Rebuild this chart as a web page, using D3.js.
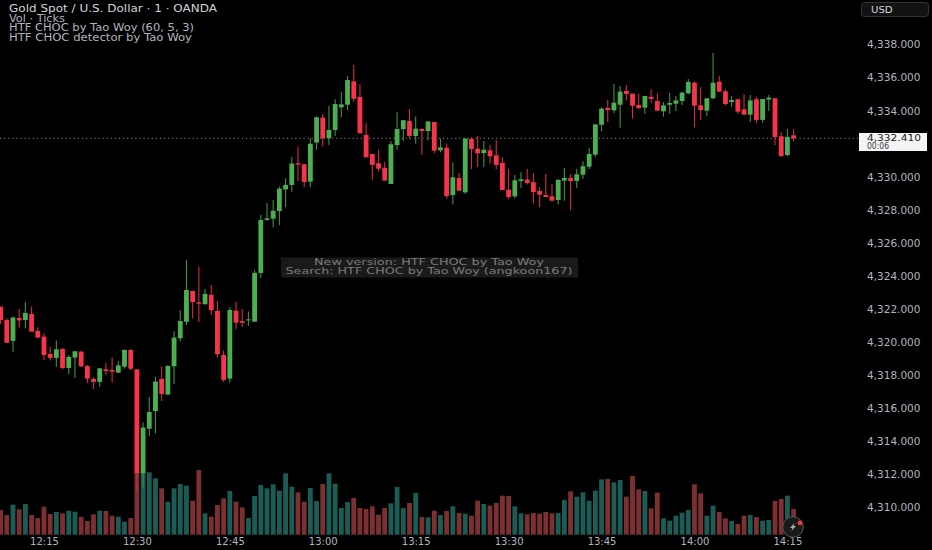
<!DOCTYPE html>
<html>
<head>
<meta charset="utf-8">
<script src="https://cdn.jsdelivr.net/npm/d3@7"></script>
<style>
  html, body { margin: 0; padding: 0; background: #000; }
  svg { display: block; }
  text { font-family: "DejaVu Sans", sans-serif; }
</style>
</head>
<body>
<svg id="chart" width="932" height="550"></svg>
<script>
const firstMinute = new Date(2025, 11, 15, 12, 8);

const opens = [
  4322.15,4321.34,4320.08,4321.47,4321.34,4321.71,4320.68,4320.34,4319.29,4319.05,
  4319.59,4318.44,4319.07,4319.43,4318.56,4317.78,4317.60,4318.36,4318.32,4318.16,
  4318.52,4319.53,4318.36,4312.08,4314.77,4315.84,4317.78,4316.83,4318.54,4320.24,
  4321.24,4323.10,4322.41,4322.29,4322.86,4321.89,4319.23,4317.80,4321.91,4321.28,
  4321.32,4321.24,4324.19,4327.39,4327.47,4327.93,4329.24,4329.51,4330.82,4330.76,
  4329.71,4332.07,4333.58,4332.33,4332.83,4334.20,4334.36,4335.77,4334.83,4332.53,
  4331.38,4330.82,4330.55,4329.57,4331.92,4332.89,4333.37,4332.47,4332.89,4332.77,
  4333.32,4331.60,4331.76,4328.90,4329.93,4329.06,4332.29,4331.70,4331.44,4331.60,
  4331.30,4330.84,4329.22,4328.82,4329.75,4329.83,4329.67,4329.14,4328.90,4328.82,
  4328.60,4329.77,4329.93,4329.75,4330.13,4330.61,4331.34,4333.15,4334.16,4334.02,
  4334.36,4335.19,4335.03,4334.34,4334.18,4334.83,4334.58,4333.96,4334.36,4334.42,
  4334.58,4335.05,4335.69,4334.32,4334.00,4334.75,4335.75,4335.17,4334.52,4334.69,
  4334.08,4333.76,4334.69,4333.44,4334.67,4334.75,4332.45,4331.32,4332.51
];
const highs = [
  4322.15,4321.45,4321.55,4322.01,4322.41,4322.15,4320.90,4320.54,4319.73,4320.10,
  4319.63,4319.21,4319.45,4319.49,4318.62,4317.88,4318.46,4318.76,4319.07,4318.87,
  4319.57,4319.59,4318.36,4315.14,4316.67,4317.90,4318.54,4318.62,4320.66,4321.93,
  4324.97,4323.10,4324.57,4323.22,4323.46,4322.49,4319.51,4322.11,4322.45,4322.01,
  4321.85,4324.35,4327.69,4328.40,4328.60,4329.41,4329.91,4331.20,4331.82,4330.76,
  4332.33,4333.64,4333.80,4334.28,4334.69,4335.11,4336.10,4336.76,4335.59,4333.27,
  4331.38,4331.62,4330.90,4332.15,4333.90,4333.44,4334.10,4333.64,4332.93,4333.35,
  4333.32,4332.31,4332.02,4330.88,4330.23,4332.33,4332.39,4332.47,4332.17,4331.94,
  4332.23,4331.18,4330.47,4330.11,4330.27,4330.47,4330.23,4329.37,4330.17,4329.57,
  4329.89,4330.53,4330.17,4330.49,4330.94,4331.76,4333.17,4334.22,4334.64,4335.61,
  4335.49,4335.55,4335.03,4335.03,4334.89,4335.29,4335.05,4334.52,4335.07,4334.89,
  4335.15,4335.91,4335.77,4335.41,4334.75,4337.49,4336.10,4335.29,4334.89,4334.69,
  4334.99,4334.95,4334.83,4334.71,4334.95,4334.75,4332.69,4332.89,4332.87
];
const lows = [
  4321.10,4319.95,4319.43,4320.88,4320.84,4320.64,4320.28,4318.93,4318.89,4318.52,
  4318.38,4318.08,4317.84,4318.50,4317.54,4317.17,4317.30,4318.00,4317.56,4318.16,
  4318.40,4318.30,4311.01,4311.23,4314.33,4314.49,4316.45,4316.83,4317.48,4320.04,
  4321.04,4321.43,4321.22,4322.29,4321.65,4319.07,4317.60,4317.56,4320.78,4320.92,
  4321.00,4321.24,4323.88,4327.35,4326.95,4327.09,4328.16,4329.10,4329.75,4329.39,
  4329.39,4331.64,4331.84,4331.92,4332.47,4333.60,4334.04,4334.54,4332.63,4331.18,
  4329.83,4330.31,4329.77,4329.57,4331.64,4332.15,4332.33,4332.00,4331.32,4332.19,
  4331.42,4331.48,4328.68,4328.32,4329.16,4328.98,4330.47,4330.59,4330.59,4330.80,
  4330.47,4329.20,4328.66,4328.72,4329.32,4329.53,4328.38,4328.16,4328.78,4328.52,
  4328.32,4328.56,4327.99,4329.32,4329.87,4330.47,4331.22,4332.75,4333.31,4333.86,
  4332.97,4334.62,4333.52,4334.10,4333.82,4334.46,4334.00,4333.64,4333.82,4333.98,
  4334.34,4334.99,4332.99,4333.44,4333.66,4334.69,4335.15,4334.32,4334.24,4333.82,
  4333.76,4333.32,4333.27,4333.27,4333.98,4331.92,4331.20,4331.24,4332.15
];
const closes = [
  4321.34,4319.97,4321.49,4321.32,4321.77,4320.64,4320.28,4319.23,4319.05,4319.57,
  4318.44,4319.11,4319.45,4318.54,4317.80,4317.60,4318.42,4318.26,4318.22,4318.60,
  4319.53,4318.40,4312.08,4314.84,4315.78,4317.62,4316.87,4318.56,4320.28,4321.28,
  4323.16,4322.43,4322.33,4322.92,4321.93,4319.27,4317.72,4321.95,4321.18,4321.18,
  4321.38,4324.19,4327.39,4327.49,4327.95,4329.28,4329.51,4330.80,4330.74,4329.69,
  4332.00,4333.60,4332.33,4332.83,4334.40,4334.38,4335.85,4334.72,4332.63,4331.18,
  4330.72,4330.49,4329.77,4331.97,4332.89,4333.42,4332.47,4332.91,4332.77,4333.35,
  4331.58,4331.78,4328.84,4329.97,4329.16,4332.31,4331.68,4331.42,4331.64,4331.24,
  4330.72,4329.20,4328.78,4329.79,4329.85,4329.63,4329.08,4328.92,4328.78,4328.56,
  4329.81,4329.93,4329.75,4330.15,4330.64,4331.38,4333.17,4334.12,4334.04,4334.48,
  4335.15,4335.01,4334.30,4334.16,4334.89,4334.71,4334.00,4334.32,4334.46,4334.62,
  4335.09,4335.73,4334.30,4334.04,4334.75,4335.69,4335.15,4334.40,4334.64,4333.94,
  4333.76,4334.62,4333.44,4334.71,4334.79,4332.41,4331.26,4332.41,4332.33
];
const volumes = [
  74,59,90,76,92,59,50,84,62,68,
  64,72,69,53,41,61,72,71,57,54,
  39,50,190,186,187,169,139,99,139,152,
  147,102,194,64,54,89,109,131,99,82,
  50,116,149,139,151,132,184,144,127,99,
  140,101,152,184,153,80,98,110,80,77,
  85,60,80,94,143,80,95,125,53,52,
  72,59,71,85,65,63,57,102,92,87,
  95,117,116,85,64,61,65,63,68,64,
  65,104,130,114,127,102,132,166,167,157,
  164,114,176,136,131,79,126,49,42,57,
  66,74,151,124,57,87,68,49,41,32,
  57,59,53,42,44,101,107,117,77
];

const priceTicks = [4338,4336,4334,4330,4328,4326,4324,4322,4320,4318,4316,4314,4312,4310];
const timeTicks = ["12:15","12:30","12:45","13:00","13:15","13:30","13:45","14:00","14:15"];
const legendLines = [
  "Gold Spot / U.S. Dollar · 1 · OANDA",
  "Vol · Ticks",
  "HTF CHOC by Tao Woy (60, 5, 3)",
  "HTF CHOC detector by Tao Woy"
];
const legendWidths = [208, 56, 185, 183];
const noteLines = [
  "New version: HTF CHOC by Tao Woy",
  "Search: HTF CHOC by Tao Woy (angkoon167)"
];
const noteWidths = [230, 287];
const lastPriceText = "4,332.410";
const countdownText = "00:06";

const upColor = "#4caf50";
const downColor = "#f7344a";
const upWick = "#3c9440";
const downWick = "#d42c40";
const upVol = "#1b5d55";
const downVol = "#7d3032";

const minuteAt = i => new Date(firstMinute.getTime() + i * 60000);
const timeOf = label => {
  const [h, m] = label.split(":").map(Number);
  return new Date(firstMinute.getFullYear(), firstMinute.getMonth(), firstMinute.getDate(), h, m);
};

const x = d3.scaleTime()
  .domain([firstMinute, minuteAt(opens.length - 1)])
  .range([0.6, 793.6]);
const y = d3.scaleLinear()
  .domain([4338, 4310])
  .range([44.5, 507.6]);
const yVol = d3.scaleLinear()
  .domain([0, 194])
  .range([534.7, 470]);

const svg = d3.select("#chart");
svg.append("rect").attr("width", 932).attr("height", 550).attr("fill", "#000");

const idx = d3.range(opens.length);
const isUp = i => closes[i] >= opens[i];

// volume goes under the candles
svg.append("g").selectAll("rect")
  .data(idx)
  .join("rect")
  .attr("x", i => x(minuteAt(i)) - 2.4)
  .attr("width", 4.8)
  .attr("y", i => yVol(volumes[i]))
  .attr("height", i => yVol(0) - yVol(volumes[i]))
  .attr("fill", i => isUp(i) ? upVol : downVol);

// last price line
svg.append("line")
  .attr("x1", 0).attr("x2", 859)
  .attr("y1", y(closes[closes.length - 1]))
  .attr("y2", y(closes[closes.length - 1]))
  .attr("stroke", "#8a8a8a")
  .attr("stroke-width", 1)
  .attr("stroke-dasharray", "1.2 2.9");

const candles = svg.append("g");
candles.selectAll("line")
  .data(idx)
  .join("line")
  .attr("x1", i => x(minuteAt(i)))
  .attr("x2", i => x(minuteAt(i)))
  .attr("y1", i => y(highs[i]))
  .attr("y2", i => y(lows[i]))
  .attr("stroke", i => isUp(i) ? upWick : downWick)
  .attr("stroke-width", 1.1);
candles.selectAll("rect")
  .data(idx)
  .join("rect")
  .attr("x", i => x(minuteAt(i)) - 2.4)
  .attr("width", 4.8)
  .attr("y", i => y(Math.max(opens[i], closes[i])))
  .attr("height", i => Math.max(1, Math.abs(y(opens[i]) - y(closes[i]))))
  .attr("fill", i => isUp(i) ? upColor : downColor);

// axes
const yAxis = svg.append("g")
  .attr("transform", "translate(863,0)")
  .call(d3.axisRight(y).tickValues(priceTicks).tickSize(0).tickFormat(d3.format(",.3f")));
yAxis.select(".domain").remove();
yAxis.selectAll("text")
  .attr("x", 4)
  .attr("fill", "#b2b5be")
  .style("font-family", '"DejaVu Sans", sans-serif')
  .style("font-size", "10.5px");

const xAxis = svg.append("g")
  .attr("transform", "translate(0,535)")
  .call(d3.axisBottom(x).tickValues(timeTicks.map(timeOf)).tickSize(0).tickFormat(d3.timeFormat("%H:%M")));
xAxis.select(".domain").remove();
xAxis.selectAll("text")
  .attr("y", 3)
  .attr("fill", "#b2b5be")
  .style("font-family", '"DejaVu Sans", sans-serif')
  .style("font-size", "10px");

// legend top left, reference text is wide so stretch it to the measured widths
svg.append("g").selectAll("text")
  .data(legendLines)
  .join("text")
  .attr("x", 9)
  .attr("y", (d, i) => [12.3, 21.8, 31.2, 40.6][i])
  .attr("fill", (d, i) => i == 0 ? "#d1d4dc" : "#b2b5be")
  .attr("textLength", (d, i) => legendWidths[i])
  .attr("lengthAdjust", "spacingAndGlyphs")
  .style("font-size", "9.8px")
  .text(d => d);

// note in the middle
svg.append("rect")
  .attr("x", 281).attr("y", 257.5).attr("width", 297).attr("height", 20)
  .attr("fill", "#1a1a1a");
svg.append("g").selectAll("text")
  .data(noteLines)
  .join("text")
  .attr("x", 429)
  .attr("y", (d, i) => 265.4 + i * 8.6)
  .attr("text-anchor", "middle")
  .attr("fill", "#7c7c7c")
  .attr("textLength", (d, i) => noteWidths[i])
  .attr("lengthAdjust", "spacingAndGlyphs")
  .style("font-size", "8.6px")
  .text(d => d);

// currency button
svg.append("rect")
  .attr("x", 861.5).attr("y", 2.5).attr("width", 67).attr("height", 14)
  .attr("rx", 3)
  .attr("fill", "#121212")
  .attr("stroke", "#333");
svg.append("text")
  .attr("x", 871).attr("y", 13)
  .attr("fill", "#d1d4dc")
  .attr("textLength", 21.7)
  .attr("lengthAdjust", "spacingAndGlyphs")
  .style("font-size", "9.5px")
  .text("USD");

// last price tag
svg.append("rect")
  .attr("x", 859).attr("y", 133).attr("width", 68).attr("height", 18)
  .attr("fill", "#f4f4f4");
svg.append("text")
  .attr("x", 867).attr("y", 141)
  .attr("fill", "#131722")
  .attr("textLength", 54)
  .attr("lengthAdjust", "spacingAndGlyphs")
  .style("font-size", "9px")
  .text(lastPriceText);
svg.append("text")
  .attr("x", 867).attr("y", 148.8)
  .attr("fill", "#3a3d45")
  .attr("textLength", 22)
  .attr("lengthAdjust", "spacingAndGlyphs")
  .style("font-size", "8px")
  .text(countdownText);

// flash badge over the last volume bars
const badge = svg.append("g").attr("transform", "translate(793,527)");
badge.append("circle").attr("r", 10.3).attr("fill", "#1a1a1a").attr("stroke", "#555").attr("stroke-width", 1);
badge.append("path").attr("d", "M1.5 -4 L-3 1 L-0.5 1 L-1.5 4 L3 -1 L0.5 -1 Z").attr("fill", "#b0b0b0");
badge.append("circle").attr("cx", 7).attr("cy", -4).attr("r", 2.4).attr("fill", "#f23645");
</script>
</body>
</html>
